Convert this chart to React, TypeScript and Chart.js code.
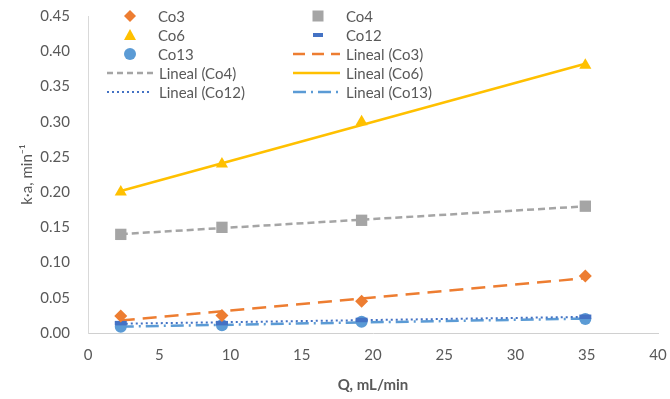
import React, { useEffect, useRef } from "react";
import { Chart, registerables } from "chart.js";

Chart.register(...registerables);

const qValues = [2.3, 9.4, 19.2, 34.9];
const co3 = [0.024, 0.025, 0.045, 0.081];
const co4 = [0.14, 0.15, 0.16, 0.18];
const co6 = [0.2, 0.24, 0.3, 0.38];
const co12 = [0.014, 0.014, 0.0185, 0.023];
const co13 = [0.009, 0.011, 0.016, 0.02];

const xTitle = "Q, mL/min";
const yTitle = "k·a, min⁻¹";

const C3 = "#ED7D31";
const C4 = "#A5A5A5";
const C6 = "#FFC000";
const C12 = "#4472C4";
const C13 = "#5B9BD5";
const FONT = "Lato, 'Noto Sans', sans-serif";

function pts(ys: number[]) {
  return qValues.map((x, i) => ({ x, y: ys[i] }));
}

function trend(ys: number[]) {
  const n = qValues.length;
  const mx = qValues.reduce((a, b) => a + b, 0) / n;
  const my = ys.reduce((a, b) => a + b, 0) / n;
  let sxy = 0;
  let sxx = 0;
  for (let i = 0; i < n; i++) {
    sxy += (qValues[i] - mx) * (ys[i] - my);
    sxx += (qValues[i] - mx) * (qValues[i] - mx);
  }
  const b = sxy / sxx;
  const a = my - b * mx;
  const x0 = qValues[0];
  const x1 = qValues[n - 1];
  return [
    { x: x0, y: a + b * x0 },
    { x: x1, y: a + b * x1 },
  ];
}

function Legend() {
  const t = (x: number, y: number, s: string) => (
    <text x={x} y={y} dominantBaseline="central" fontFamily={FONT} fontSize={15} fill="#595959">
      {s}
    </text>
  );
  const r = [16, 35, 54, 73, 92];
  const c1 = 130;
  const c2 = 318;
  const tx1 = 158;
  const tx2 = 346;
  return (
    <svg
      width={670}
      height={399}
      style={{ position: "absolute", left: 0, top: 0, pointerEvents: "none" }}
    >
      <polygon points={`${c1},${r[0] - 6} ${c1 + 6},${r[0]} ${c1},${r[0] + 6} ${c1 - 6},${r[0]}`} fill={C3} />
      {t(tx1, r[0], "Co3")}
      <polygon points={`${c1},${r[1] - 6} ${c1 + 6},${r[1] + 5} ${c1 - 6},${r[1] + 5}`} fill={C6} />
      {t(tx1, r[1], "Co6")}
      <circle cx={c1} cy={r[2]} r={6} fill={C13} />
      {t(tx1, r[2], "Co13")}
      <line x1={107} y1={r[3]} x2={153} y2={r[3]} stroke={C4} strokeWidth={2.5} strokeDasharray="6 4" />
      {t(tx1 + 1, r[3], "Lineal (Co4)")}
      <line x1={107} y1={r[4]} x2={152} y2={r[4]} stroke={C12} strokeWidth={2} strokeDasharray="2 3" />
      {t(tx1 + 1, r[4], "Lineal (Co12)")}

      <rect x={c2 - 5.5} y={r[0] - 5.5} width={11} height={11} fill={C4} />
      {t(tx2, r[0], "Co4")}
      <rect x={c2 - 5} y={r[1] - 2} width={10} height={4} fill={C12} />
      {t(tx2, r[1], "Co12")}
      <line x1={293} y1={r[2]} x2={340} y2={r[2]} stroke={C3} strokeWidth={2.5} strokeDasharray="12 7" />
      {t(tx2, r[2], "Lineal (Co3)")}
      <line x1={293} y1={r[3]} x2={340} y2={r[3]} stroke={C6} strokeWidth={2.5} />
      {t(tx2, r[3], "Lineal (Co6)")}
      <line x1={293} y1={r[4]} x2={340} y2={r[4]} stroke={C13} strokeWidth={2.5} strokeDasharray="13 5 2 5" />
      {t(tx2, r[4], "Lineal (Co13)")}
    </svg>
  );
}

export default function App() {
  const ref = useRef<HTMLCanvasElement | null>(null);

  useEffect(() => {
    if (!ref.current) return;
    const tickFont = { family: FONT, size: 15 };
    const chart = new Chart(ref.current, {
      type: "scatter",
      data: {
        datasets: [
          { label: "Co3", data: pts(co3), pointStyle: "rectRot", pointRadius: 6.5, backgroundColor: C3, borderColor: C3, borderWidth: 0 },
          { label: "Co4", data: pts(co4), pointStyle: "rect", pointRadius: 8, backgroundColor: C4, borderColor: C4, borderWidth: 0 },
          { label: "Co6", data: pts(co6), pointStyle: "triangle", pointRadius: 7, backgroundColor: C6, borderColor: C6, borderWidth: 0 },
          { label: "Co12", data: pts(co12), pointStyle: "line", pointRadius: 6, backgroundColor: C12, borderColor: C12, borderWidth: 4.5 },
          { label: "Co13", data: pts(co13), pointStyle: "circle", pointRadius: 6, backgroundColor: C13, borderColor: C13, borderWidth: 0 },
          { label: "Lineal (Co3)", data: trend(co3), showLine: true, pointRadius: 0, borderColor: C3, borderWidth: 2.5, borderDash: [14, 8] },
          { label: "Lineal (Co4)", data: trend(co4), showLine: true, pointRadius: 0, borderColor: C4, borderWidth: 2.5, borderDash: [7, 4] },
          { label: "Lineal (Co6)", data: trend(co6), showLine: true, pointRadius: 0, borderColor: C6, borderWidth: 2.5 },
          { label: "Lineal (Co12)", data: trend(co12), showLine: true, pointRadius: 0, borderColor: C12, borderWidth: 2, borderDash: [2, 3] },
          { label: "Lineal (Co13)", data: trend(co13), showLine: true, pointRadius: 0, borderColor: C13, borderWidth: 2.5, borderDash: [13, 5, 2, 5] },
        ],
      },
      options: {
        animation: false,
        responsive: false,
        maintainAspectRatio: false,
        layout: { padding: { left: 0, right: 12, top: 16, bottom: 0 } },
        plugins: { legend: { display: false }, tooltip: { enabled: false } },
        scales: {
          x: {
            type: "linear",
            min: 0,
            max: 40,
            afterFit: (s: any) => {
              s.height = 66;
              s.paddingLeft = 0;
              s.paddingRight = 0;
            },
            grid: { display: false, drawTicks: false },
            border: { display: true, color: "#d0d0d0", width: 1 },
            ticks: { stepSize: 5, font: tickFont, color: "#595959", padding: 13, maxRotation: 0 },
            title: {
              display: true,
              text: xTitle,
              font: { family: FONT, size: 15, weight: "bold" },
              color: "#595959",
              padding: { top: 0, bottom: 5 },
            },
          },
          y: {
            type: "linear",
            min: 0,
            max: 0.45,
            afterFit: (s: any) => {
              s.width = 88;
              s.paddingTop = 0;
              s.paddingBottom = 0;
            },
            grid: { display: false, drawTicks: false },
            border: { display: true, color: "#d9d9d9", width: 1 },
            ticks: {
              stepSize: 0.05,
              font: tickFont,
              color: "#595959",
              padding: 18,
              callback: (v: any) => Number(v).toFixed(2),
            },
            title: {
              display: true,
              text: yTitle,
              font: { family: FONT, size: 15 },
              color: "#595959",
              padding: { top: 18, bottom: 0 },
            },
          },
        },
      },
    });
    return () => chart.destroy();
  }, []);

  return (
    <div style={{ position: "fixed", left: 0, top: 0, width: 670, height: 399, background: "#fff" }}>
      <canvas ref={ref} width={670} height={399} style={{ width: 670, height: 399, display: "block" }} />
      <Legend />
    </div>
  );
}
